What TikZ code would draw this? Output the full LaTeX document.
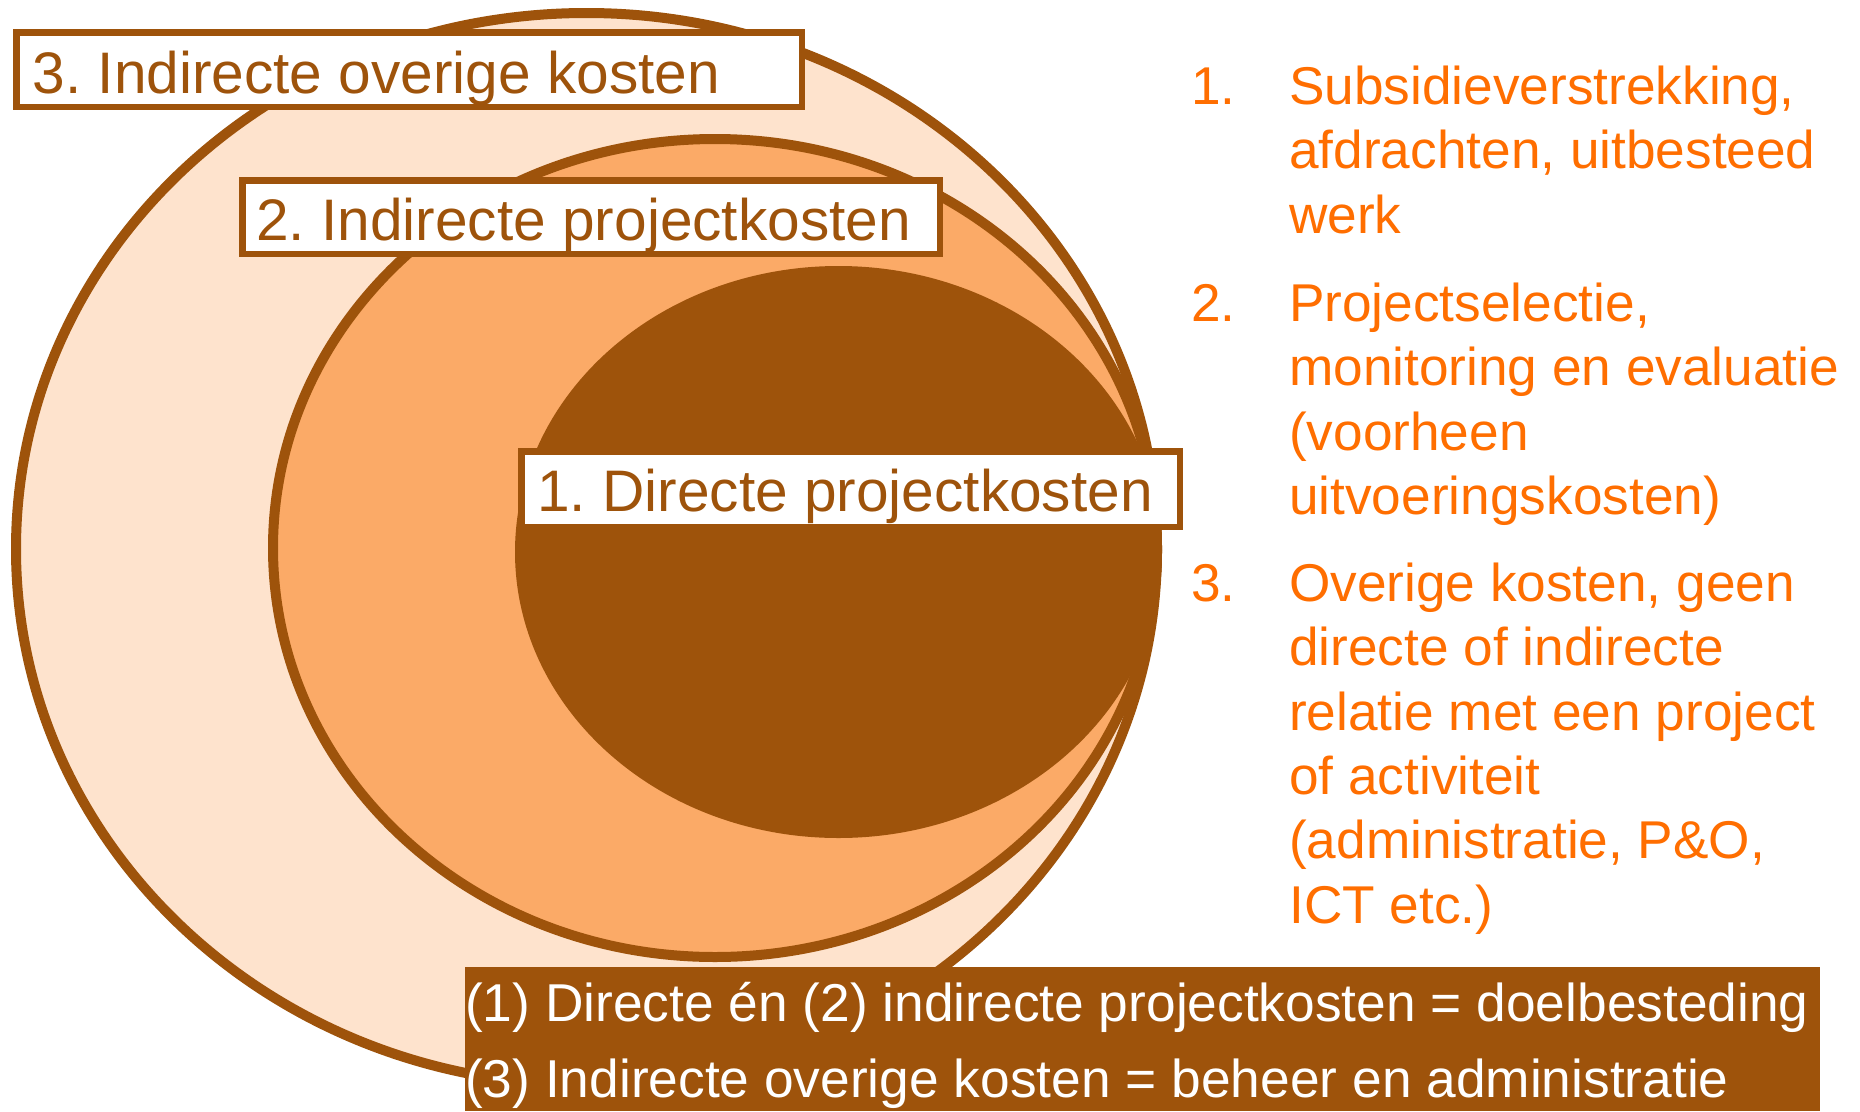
\documentclass[tikz,border=0pt]{standalone}
\usepackage{fontspec}
\setmainfont{Liberation Sans}
\definecolor{brn}{RGB}{158,83,11}
\definecolor{peach}{RGB}{254,227,205}
\definecolor{apricot}{RGB}{251,170,103}
\definecolor{orng}{RGB}{255,110,0}
\begin{document}
\frenchspacing
\begin{tikzpicture}[x=1pt,y=-1pt,
  ring/.style={draw=brn, line width=10pt},
  lblbox/.style={draw=brn, line width=6.5pt, fill=white, inner sep=0pt, anchor=north west},
  lbltext/.style={anchor=base west, inner sep=0pt, text=brn, font=\fontsize{58.6pt}{70pt}\selectfont},
  listtext/.style={anchor=base west, inner sep=0pt, text=orng, font=\fontsize{53.2pt}{64pt}\selectfont},
  sumtext/.style={anchor=base west, inner sep=0pt, text=white, font=\fontsize{53.3pt}{64pt}\selectfont}]
\useasboundingbox (0,0) rectangle (1860,1111);
\fill[white] (0,0) rectangle (1860,1111);
% nested ellipses
\draw[ring, fill=peach] (586.5,549) ellipse [x radius=570.5pt, y radius=536pt];
\draw[ring, fill=apricot] (715,548) ellipse [x radius=442pt, y radius=409pt];
\fill[brn] (838.5,552) ellipse [x radius=323.5pt, y radius=286pt];
% label boxes
\node[lblbox, minimum width=785.5pt, minimum height=74.5pt] (b3) at (13,29) {};
\node[lbltext] (t3) at (32.5,93) {3. Indirecte overige kosten};
\node[lblbox, minimum width=697.5pt, minimum height=73.5pt] (b2) at (239,177) {};
\node[lbltext] (t2) at (256,240) {2. Indirecte projectkosten};
\node[lblbox, minimum width=658.5pt, minimum height=75.5pt] (b1) at (518,448) {};
\node[lbltext] (t1) at (537,511) {1. Directe projectkosten};
% summary box
\node[fill=brn, inner sep=0pt, outer sep=0pt, anchor=north west, minimum width=1355pt, minimum height=144pt] (sum) at (465,967) {};
\node[sumtext] (s1) at (465,1021) {(1) Directe én (2) indirecte projectkosten = doelbesteding};
\node[sumtext] (s2) at (465,1097) {(3) Indirecte overige kosten = beheer en administratie};
% right list
\node[listtext] (n1) at (1191,104) {1.};
\node[listtext] (l1a) at (1289,104) {Subsidieverstrekking,};
\node[listtext] (l1b) at (1289,168) {afdrachten, uitbesteed};
\node[listtext] (l1c) at (1289,233) {werk};
\node[listtext] (n2) at (1191,321) {2.};
\node[listtext] (l2a) at (1289,321) {Projectselectie,};
\node[listtext] (l2b) at (1289,385) {monitoring en evaluatie};
\node[listtext] (l2c) at (1289,450) {(voorheen};
\node[listtext] (l2d) at (1289,514) {uitvoeringskosten)};
\node[listtext] (n3) at (1191,601) {3.};
\node[listtext] (l3a) at (1289,601) {Overige kosten, geen};
\node[listtext] (l3b) at (1289,665) {directe of indirecte};
\node[listtext] (l3c) at (1289,730) {relatie met een project};
\node[listtext] (l3d) at (1289,794) {of activiteit};
\node[listtext] (l3e) at (1289,858) {(administratie, P\&O,};
\node[listtext] (l3f) at (1289,923) {ICT etc.)};
\end{tikzpicture}
\end{document}
